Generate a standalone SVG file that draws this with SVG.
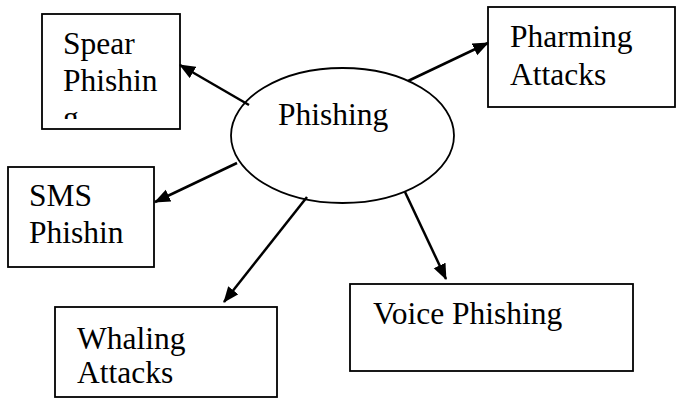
<svg xmlns="http://www.w3.org/2000/svg" width="680" height="398" viewBox="0 0 680 398">
<style>
.box{fill:#fff;stroke:#000;stroke-width:1.8}
.t{font-family:"Liberation Serif","Times New Roman",serif;font-size:31.5px;fill:#000}
.c{stroke:#000;stroke-width:2.5;fill:none}
</style>
<defs>
<marker id="ah" markerUnits="userSpaceOnUse" markerWidth="16" markerHeight="14" refX="15" refY="6.5" orient="auto">
<path d="M0,0 L16,6.5 L0,13 z" fill="#000"/>
</marker>
<clipPath id="spClip"><rect x="42" y="14" width="138" height="105"/></clipPath>
</defs>
<rect width="680" height="398" fill="#fff"/>
<g id="spear">
<rect class="box" x="42" y="14" width="138" height="115"/>
<g clip-path="url(#spClip)">
<text class="t" x="63" y="54">Spear</text>
<text class="t" x="63" y="91">Phishin</text>
<text class="t" x="63" y="128">g</text>
</g>
</g>
<g id="pharming">
<rect class="box" x="488" y="7" width="187" height="100"/>
<text class="t" x="510" y="47">Pharming</text>
<text class="t" x="510" y="85">Attacks</text>
</g>
<g id="sms">
<rect class="box" x="8" y="167" width="146" height="100"/>
<text class="t" x="29" y="206">SMS</text>
<text class="t" x="29" y="243">Phishin</text>
</g>
<g id="whaling">
<rect class="box" x="55" y="307" width="222" height="90"/>
<text class="t" x="77" y="349">Whaling</text>
<text class="t" x="77" y="383">Attacks</text>
</g>
<g id="voice">
<rect class="box" x="350" y="284" width="283" height="87"/>
<text class="t" x="373" y="324">Voice Phishing</text>
</g>
<g id="phishing">
<ellipse cx="342.5" cy="135.5" rx="111.5" ry="67.5" fill="#fff" stroke="#000" stroke-width="1.8"/>
<text class="t" x="278" y="125">Phishing</text>
</g>
<g id="connectors">
<line class="c" x1="249" y1="105" x2="180" y2="65" marker-end="url(#ah)"/>
<line class="c" x1="408" y1="81" x2="488" y2="43" marker-end="url(#ah)"/>
<line class="c" x1="237" y1="163" x2="155" y2="202" marker-end="url(#ah)"/>
<line class="c" x1="307" y1="197" x2="224" y2="302" marker-end="url(#ah)"/>
<line class="c" x1="405" y1="192" x2="446" y2="279" marker-end="url(#ah)"/>
</g>
</svg>
